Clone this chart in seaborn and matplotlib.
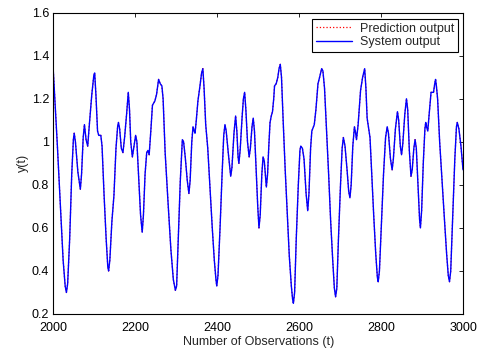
import matplotlib
matplotlib.use("Agg")
import matplotlib.pyplot as plt
import seaborn as sns
import pandas as pd

t_obs = [2000, 2004, 2010, 2017, 2024, 2029, 2032, 2035, 2040, 2045, 2049, 2051, 2054, 2060, 2066,
         2069, 2073, 2076, 2080, 2084, 2088, 2094, 2099, 2101, 2104, 2108, 2111, 2116, 2119, 2124, 2129,
         2133, 2135, 2138, 2143, 2148, 2153, 2157, 2159, 2162, 2166, 2170, 2174, 2179, 2183, 2186, 2189,
         2193, 2197, 2201, 2204, 2208, 2213, 2217, 2220, 2224, 2228, 2231, 2234, 2238, 2242, 2248, 2252,
         2257, 2261, 2265, 2268, 2273, 2280, 2287, 2293, 2298, 2301, 2305, 2310, 2315, 2318, 2322, 2327,
         2331, 2334, 2338, 2341, 2344, 2346, 2349, 2353, 2358, 2362, 2365, 2368, 2372, 2377, 2382, 2388,
         2393, 2397, 2399, 2402, 2407, 2412, 2416, 2419, 2422, 2427, 2433, 2436, 2441, 2445, 2448, 2451,
         2453, 2456, 2461, 2464, 2467, 2470, 2474, 2478, 2481, 2485, 2488, 2491, 2495, 2499, 2502, 2505,
         2509, 2512, 2515, 2520, 2523, 2526, 2529, 2532, 2535, 2538, 2540, 2544, 2548, 2551, 2554, 2557,
         2561, 2566, 2571, 2576, 2581, 2584, 2586, 2589, 2593, 2598, 2602, 2604, 2608, 2612, 2617, 2621,
         2624, 2628, 2631, 2635, 2637, 2641, 2646, 2650, 2655, 2658, 2662, 2667, 2672, 2677, 2682, 2686,
         2689, 2692, 2696, 2701, 2705, 2708, 2712, 2717, 2721, 2724, 2727, 2731, 2735, 2738, 2740, 2744,
         2750, 2755, 2760, 2763, 2766, 2770, 2773, 2777, 2782, 2787, 2791, 2793, 2796, 2801, 2806, 2811,
         2815, 2818, 2823, 2827, 2830, 2835, 2840, 2843, 2847, 2850, 2853, 2858, 2862, 2865, 2869, 2873,
         2876, 2880, 2883, 2886, 2890, 2894, 2896, 2899, 2903, 2907, 2909, 2911, 2914, 2917, 2922, 2928,
         2931, 2933, 2935, 2938, 2943, 2950, 2955, 2960, 2964, 2967, 2970, 2975, 2980, 2984, 2986, 2990,
         2995, 3000]

system_output = [1.33, 1.19, 0.98, 0.71, 0.45, 0.33, 0.30, 0.34, 0.55, 0.85, 1.01, 1.04, 1.00, 0.86, 0.78,
                 0.85, 1.02, 1.08, 1.01, 0.98, 1.08, 1.22, 1.31, 1.32, 1.22, 1.05, 1.03, 1.03, 0.98, 0.75, 0.55,
                 0.42, 0.40, 0.45, 0.63, 0.75, 0.97, 1.07, 1.09, 1.06, 0.97, 0.95, 1.02, 1.13, 1.23, 1.15, 1.00,
                 0.93, 0.98, 1.03, 1.00, 0.85, 0.66, 0.58, 0.66, 0.85, 0.95, 0.96, 0.94, 1.05, 1.17, 1.19, 1.22,
                 1.29, 1.27, 1.26, 1.20, 0.95, 0.72, 0.50, 0.36, 0.31, 0.33, 0.55, 0.82, 1.01, 1.00, 0.93, 0.82,
                 0.76, 0.82, 1.00, 1.07, 1.05, 1.04, 1.10, 1.19, 1.26, 1.32, 1.34, 1.25, 1.08, 0.97, 0.80, 0.60,
                 0.45, 0.36, 0.33, 0.38, 0.60, 0.85, 1.03, 1.08, 1.05, 0.95, 0.84, 0.88, 1.04, 1.12, 1.05, 0.93,
                 0.90, 0.96, 1.12, 1.20, 1.23, 1.15, 1.00, 0.93, 0.97, 1.07, 1.11, 1.05, 0.88, 0.70, 0.60, 0.66,
                 0.85, 0.93, 0.91, 0.79, 0.85, 0.98, 1.09, 1.12, 1.14, 1.20, 1.26, 1.27, 1.30, 1.34, 1.36, 1.30,
                 1.10, 0.87, 0.67, 0.47, 0.33, 0.27, 0.25, 0.30, 0.55, 0.80, 0.96, 0.98, 0.97, 0.92, 0.76, 0.68,
                 0.76, 0.97, 1.05, 1.07, 1.08, 1.15, 1.27, 1.30, 1.34, 1.33, 1.25, 1.05, 0.85, 0.63, 0.45, 0.32,
                 0.28, 0.32, 0.55, 0.80, 0.97, 1.02, 0.98, 0.87, 0.77, 0.74, 0.80, 0.98, 1.07, 1.04, 1.01, 1.08,
                 1.24, 1.30, 1.34, 1.25, 1.11, 1.06, 1.02, 0.86, 0.66, 0.48, 0.37, 0.35, 0.40, 0.62, 0.85, 1.02,
                 1.07, 1.04, 0.92, 0.87, 0.92, 1.06, 1.14, 1.10, 0.98, 0.94, 0.99, 1.13, 1.20, 1.15, 0.96, 0.84,
                 0.87, 0.97, 1.01, 0.97, 0.80, 0.64, 0.60, 0.68, 0.90, 1.06, 1.09, 1.07, 1.05, 1.12, 1.23, 1.23,
                 1.27, 1.29, 1.26, 1.20, 1.00, 0.78, 0.63, 0.48, 0.38, 0.35, 0.40, 0.66, 0.92, 1.07, 1.09, 1.06,
                 0.98, 0.87]

# Prediction output follows the system output almost exactly
prediction_output = list(system_output)

x_ticks = [2000, 2200, 2400, 2600, 2800, 3000]
y_ticks = [0.2, 0.4, 0.6, 0.8, 1.0, 1.2, 1.4, 1.6]
y_tick_labels = ["0.2", "0.4", "0.6", "0.8", "1", "1.2", "1.4", "1.6"]

sns.set_style("white")
plt.rcParams["font.family"] = ["Liberation Sans", "DejaVu Sans"]
plt.rcParams["font.size"] = 9

df_sys = pd.DataFrame({"t": t_obs, "y": system_output})
df_pred = pd.DataFrame({"t": t_obs, "y": prediction_output})

fig = plt.figure(figsize=(4.81, 3.49), dpi=100)
ax = fig.add_axes([0.1108, 0.1003, 0.8518, 0.8633])

sns.lineplot(data=df_pred, x="t", y="y", ax=ax, color="red", linestyle=":", linewidth=0.9,
             label="Prediction output")
sns.lineplot(data=df_sys, x="t", y="y", ax=ax, color="#0000ff", linestyle="-", linewidth=1.0,
             label="System output")

ax.set_xlim(2000, 3000)
ax.set_ylim(0.2, 1.6)
ax.set_xticks(x_ticks)
ax.set_yticks(y_ticks)
ax.set_yticklabels(y_tick_labels)
ax.set_xlabel("Number of Observations (t)", fontsize=9, labelpad=1.5)
ax.set_ylabel("y(t)", fontsize=9, labelpad=2)

ax.tick_params(direction="in", length=3, width=0.6, top=True, right=True, labelsize=9,
               color="black", labelcolor="black")
ax.tick_params(axis="x", pad=5.5)
ax.tick_params(axis="y", pad=3)
for s in ax.spines.values():
    s.set_color("black")
    s.set_linewidth(0.8)

leg = ax.legend(loc="upper right", fancybox=False, framealpha=1, edgecolor="black", fontsize=9,
                handlelength=2.9, borderpad=0.3, labelspacing=0.1, handletextpad=0.6,
                borderaxespad=0, bbox_to_anchor=(0.987, 0.979))
leg.get_frame().set_linewidth(0.8)

fig.savefig("out.png", dpi=100)
